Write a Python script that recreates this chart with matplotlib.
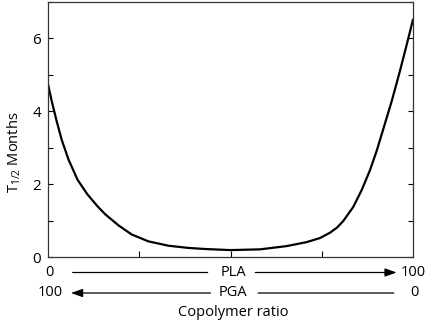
"""
Half-life of PLA/PGA copolymer vs. copolymer ratio.
"""

import matplotlib
matplotlib.use("Agg")
import matplotlib.pyplot as plt
import matplotlib.transforms as mtransforms

# PLA content (%) and half-life (months)
pla_pct = [0, 1.0, 2.4, 3.75, 5.6, 8.1, 10.8, 13.5, 15.6, 19.3, 22.9, 27.5,
           33.0, 38.4, 43.0, 49.9, 58.1, 65.4, 70.9, 74.5, 77.3, 79.2, 80.9,
           83.6, 85.9, 88.2, 90.0, 92.0, 94.2, 96.4, 98.3, 100]
half_life = [4.75, 4.29, 3.72, 3.22, 2.68, 2.12, 1.72, 1.40, 1.18, 0.87, 0.62,
             0.43, 0.31, 0.25, 0.22, 0.19, 0.21, 0.30, 0.41, 0.52, 0.67, 0.81,
             0.99, 1.37, 1.83, 2.38, 2.90, 3.56, 4.29, 5.10, 5.84, 6.52]

y_major = [0, 2, 4, 6]
y_minor = [1, 3, 5, 7]
x_ticks = [25, 50, 75]

plt.rcParams["font.family"] = ["Open Sans", "DejaVu Sans"]
plt.rcParams["mathtext.fontset"] = "custom"
plt.rcParams["mathtext.rm"] = "Open Sans"

fig = plt.figure(figsize=(4.3, 3.23), dpi=100)
ax = fig.add_axes([0.1116, 0.2043, 0.8489, 0.7895])

ax.plot(pla_pct, half_life, color="black", linewidth=1.6,
        solid_capstyle="round", solid_joinstyle="round")

ax.set_xlim(0, 100)
ax.set_ylim(0, 7)
ax.set_yticks(y_major)
ax.set_yticks(y_minor, minor=True)
ax.set_xticks(x_ticks)
ax.set_xticklabels([])
ax.tick_params(axis="y", which="both", direction="in", length=3.5, width=0.8,
               labelsize=11, pad=5, right=True, labelright=False)
ax.tick_params(axis="x", direction="in", length=4, width=0.8)
for spine in ax.spines.values():
    spine.set_linewidth(0.9)
    spine.set_edgecolor("#333333")

ax.set_ylabel(r"T$_{1/2}$ Months", fontsize=10.5)
ax.yaxis.set_label_coords(-0.068, 0.41)

# bottom composition scale: PLA runs left->right, PGA right->left
trans = mtransforms.blended_transform_factory(ax.transData, fig.transFigure)
row1, row2, row3 = 1 - 272.5 / 323, 1 - 293 / 323, 1 - 312.5 / 323
fs = 10.5
head = "-|>,head_length=0.7,head_width=0.25"

ax.text(0.5, row1, "0", transform=trans, ha="center", va="center", fontsize=fs)
ax.text(50.7, row1, "PLA", transform=trans, ha="center", va="center", fontsize=fs)
ax.text(100, row1, "100", transform=trans, ha="center", va="center", fontsize=fs)
ax.annotate("", xy=(6.0, row1), xytext=(44.5, row1), xycoords=trans,
            textcoords=trans, annotation_clip=False,
            arrowprops=dict(arrowstyle="-", color="black", lw=0.9))
ax.annotate("", xy=(95.5, row1), xytext=(56.8, row1), xycoords=trans,
            textcoords=trans, annotation_clip=False,
            arrowprops=dict(arrowstyle=head, color="black", lw=0.9,
                            shrinkA=0, shrinkB=0))

ax.text(0.5, row2, "100", transform=trans, ha="center", va="center", fontsize=fs)
ax.text(50.7, row2, "PGA", transform=trans, ha="center", va="center", fontsize=fs)
ax.text(100.5, row2, "0", transform=trans, ha="center", va="center", fontsize=fs)
ax.annotate("", xy=(6.3, row2), xytext=(44.5, row2), xycoords=trans,
            textcoords=trans, annotation_clip=False,
            arrowprops=dict(arrowstyle=head, color="black", lw=0.9,
                            shrinkA=0, shrinkB=0))
ax.annotate("", xy=(95.5, row2), xytext=(56.8, row2), xycoords=trans,
            textcoords=trans, annotation_clip=False,
            arrowprops=dict(arrowstyle="-", color="black", lw=0.9))

ax.text(50.7, row3, "Copolymer ratio", transform=trans, ha="center",
        va="center", fontsize=fs)

fig.savefig("out.png", dpi=100)
